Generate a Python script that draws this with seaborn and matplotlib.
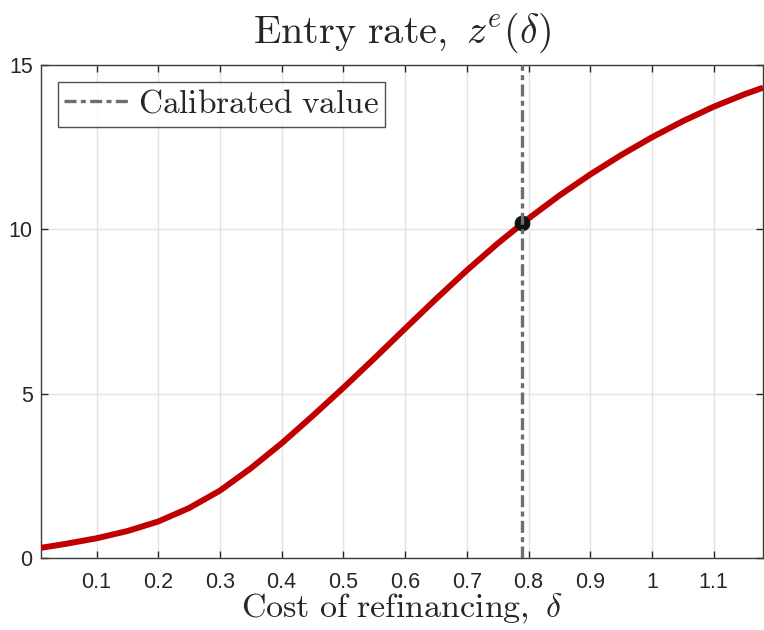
import numpy as np
import pandas as pd
import matplotlib
matplotlib.use("Agg")
import matplotlib.pyplot as plt
import seaborn as sns

# Data
delta = [0.01, 0.05, 0.10, 0.15, 0.20, 0.25, 0.30, 0.35, 0.40, 0.45, 0.50, 0.55,
         0.60, 0.65, 0.70, 0.75, 0.80, 0.85, 0.90, 0.95, 1.00, 1.05, 1.10, 1.15, 1.18]
entry_rate = [0.31, 0.43, 0.60, 0.82, 1.11, 1.52, 2.05, 2.73, 3.49, 4.32, 5.18, 6.07,
              6.98, 7.88, 8.75, 9.57, 10.33, 11.03, 11.67, 12.26, 12.80, 13.29, 13.73, 14.11, 14.31]
calib_delta = [0.79]
calib_value = [10.20]
xticks = [0.1, 0.2, 0.3, 0.4, 0.5, 0.6, 0.7, 0.8, 0.9, 1.0, 1.1]
xticklabels = ["0.1", "0.2", "0.3", "0.4", "0.5", "0.6", "0.7", "0.8", "0.9", "1", "1.1"]
yticks = [0, 5, 10, 15]

sns.set_style("white")
plt.rcParams["font.family"] = ["Liberation Sans", "DejaVu Sans"]
plt.rcParams["mathtext.fontset"] = "cm"

df = pd.DataFrame({"delta": delta, "z": entry_rate})
pt = pd.DataFrame({"delta": calib_delta, "z": calib_value})

fig = plt.figure(figsize=(7.64, 6.30), dpi=100)
ax = fig.add_axes([0.0537, 0.1143, 0.9450, 0.7825])

ax.grid(True, color="#e3e3e3", linewidth=1.0)
ax.set_axisbelow(True)

sns.lineplot(data=df, x="delta", y="z", ax=ax, color="#c00000", linewidth=4.3,
             zorder=3, legend=False, solid_joinstyle="round", solid_capstyle="butt")
sns.scatterplot(data=pt, x="delta", y="z", ax=ax, color="#111111", s=110,
                edgecolor="#111111", zorder=4, legend=False)
ax.axvline(calib_delta[0], color="#6e6e6e", linewidth=2.4,
           linestyle=(0, (3.6, 1.3, 1.5, 1.3)), zorder=5,
           label="Calibrated value")

ax.set_xlim(0.01, 1.18)
ax.set_ylim(0, 15)
ax.set_xticks(xticks)
ax.set_xticklabels(xticklabels)
ax.set_yticks(yticks)
ax.tick_params(direction="in", length=5, width=1.0, colors="#262626",
               labelsize=15.5, top=True, right=True, bottom=True, left=True)
ax.tick_params(axis="x", pad=10)
ax.tick_params(axis="y", pad=6)
for s in ax.spines.values():
    s.set_visible(True)
    s.set_color("#3a3a3a")
    s.set_linewidth(1.0)

ax.set_xlabel(r"$\mathrm{Cost\ of\ refinancing,}\ \delta$", fontsize=24.5, labelpad=-1)
ax.set_ylabel("")
ax.set_title(r"$\mathrm{Entry\ rate,}\ z^e(\delta)$", fontsize=29, pad=16)

leg = ax.legend(loc="upper left", bbox_to_anchor=(0.023, 0.965), fontsize=24,
                frameon=True, fancybox=False, handlelength=2.0, handletextpad=0.2,
                borderpad=0.2, borderaxespad=0)
leg.get_frame().set_edgecolor("#262626")
leg.get_frame().set_linewidth(1.0)
for t in leg.get_texts():
    t.set_text(r"$\mathrm{Calibrated\ value}$")

fig.savefig("out.png", dpi=100)
